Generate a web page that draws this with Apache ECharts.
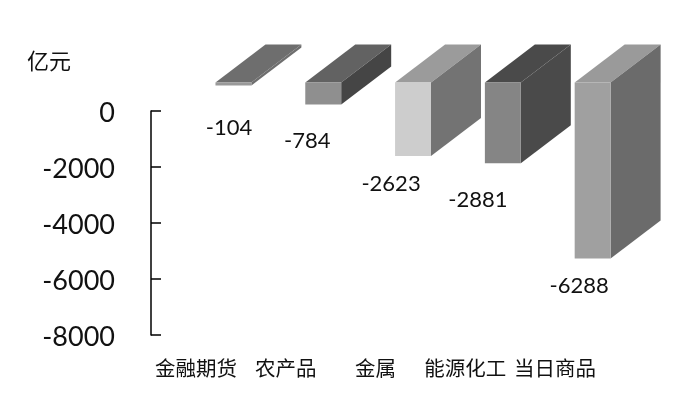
<!DOCTYPE html>
<html><head><meta charset="utf-8">
<style>html,body{margin:0;padding:0;background:#fff}#c{width:693px;height:404px}</style>
<script src="https://cdn.jsdelivr.net/npm/echarts@6/dist/echarts.min.js"></script>
</head><body><div id="c"></div>
<script>
var categories = ['金融期货','农产品','金属','能源化工','当日商品'];
var values = [-104,-784,-2623,-2881,-6288];
var yTicks = {min:-8000,max:0,interval:2000};
var unitLabel = '亿元';

// styling, not data: [front, top, side] grey per bar; label shift from bar foot
var shades = [['#999999','#6e6e6e','#6e6e6e'],['#8f8f8f','#626262','#454545'],['#cdcdcd','#9b9b9b','#737373'],['#858585','#4a4a4a','#4a4a4a'],['#a0a0a0','#9a9a9a','#6b6b6b']];
var labelShift = [[-4.5,42],[-16,36],[-22,28],[-25,37],[-13.5,27]];
var LATIN='Lato, "Noto Sans", sans-serif', CJK='"Noto Sans CJK SC", sans-serif';

function renderBar(params, api){
  var i=api.value(0), v=api.value(1);
  var zero=api.coord([i,0]), end=api.coord([i,v]);
  var band=api.size([1,0])[0];
  var w=band*0.4, cx=zero[0]+band*0.418, lift=28.5, dx=50, dy=38;
  var x0=cx-w/2, x1=cx+w/2, y0=zero[1]-lift, y1=end[1]-lift;
  var c=shades[i], sh=labelShift[i];
  function poly(pts,fill){return {type:'polygon',shape:{points:pts},style:{fill:fill}};}
  return {type:'group',children:[
    poly([[x0,y0],[x1,y0],[x1+dx,y0-dy],[x0+dx,y0-dy]],c[1]),
    poly([[x1,y0],[x1+dx,y0-dy],[x1+dx,y1-dy],[x1,y1]],c[2]),
    poly([[x0,y0],[x1,y0],[x1,y1],[x0,y1]],c[0]),
    {type:'text',x:cx+sh[0],y:y1+sh[1],style:{text:String(v),font:'22px '+LATIN,fill:'#111',align:'center',verticalAlign:'middle'}}
  ]};
}
var chart=echarts.init(document.getElementById('c'),null,{renderer:'canvas'});
chart.setOption({
  animation:false,backgroundColor:'#fff',
  title:{text:unitLabel,left:22,top:45,textStyle:{fontFamily:CJK,fontSize:22,fontWeight:'normal',color:'#111'}},
  grid:{left:151,top:111,width:449,height:224},
  xAxis:{type:'category',data:categories,axisLine:{show:false,onZero:false},axisTick:{show:false},
    axisLabel:{interval:0,margin:23,fontFamily:CJK,fontSize:20.5,color:'#111'}},
  yAxis:{type:'value',min:yTicks.min,max:yTicks.max,interval:yTicks.interval,splitLine:{show:false},
    axisLine:{show:true,lineStyle:{color:'#000',width:1.5}},
    axisTick:{show:true,inside:true,length:10,lineStyle:{color:'#000',width:1.5}},
    axisLabel:{margin:36,fontFamily:LATIN,fontSize:27,color:'#111',verticalAlign:'top',lineHeight:4,formatter:function(v){return String(v);}}},
  series:[{type:'custom',clip:false,renderItem:renderBar,encode:{x:0,y:1},
    data:values.map(function(v,i){return [i,v];})}]
});
</script></body></html>
